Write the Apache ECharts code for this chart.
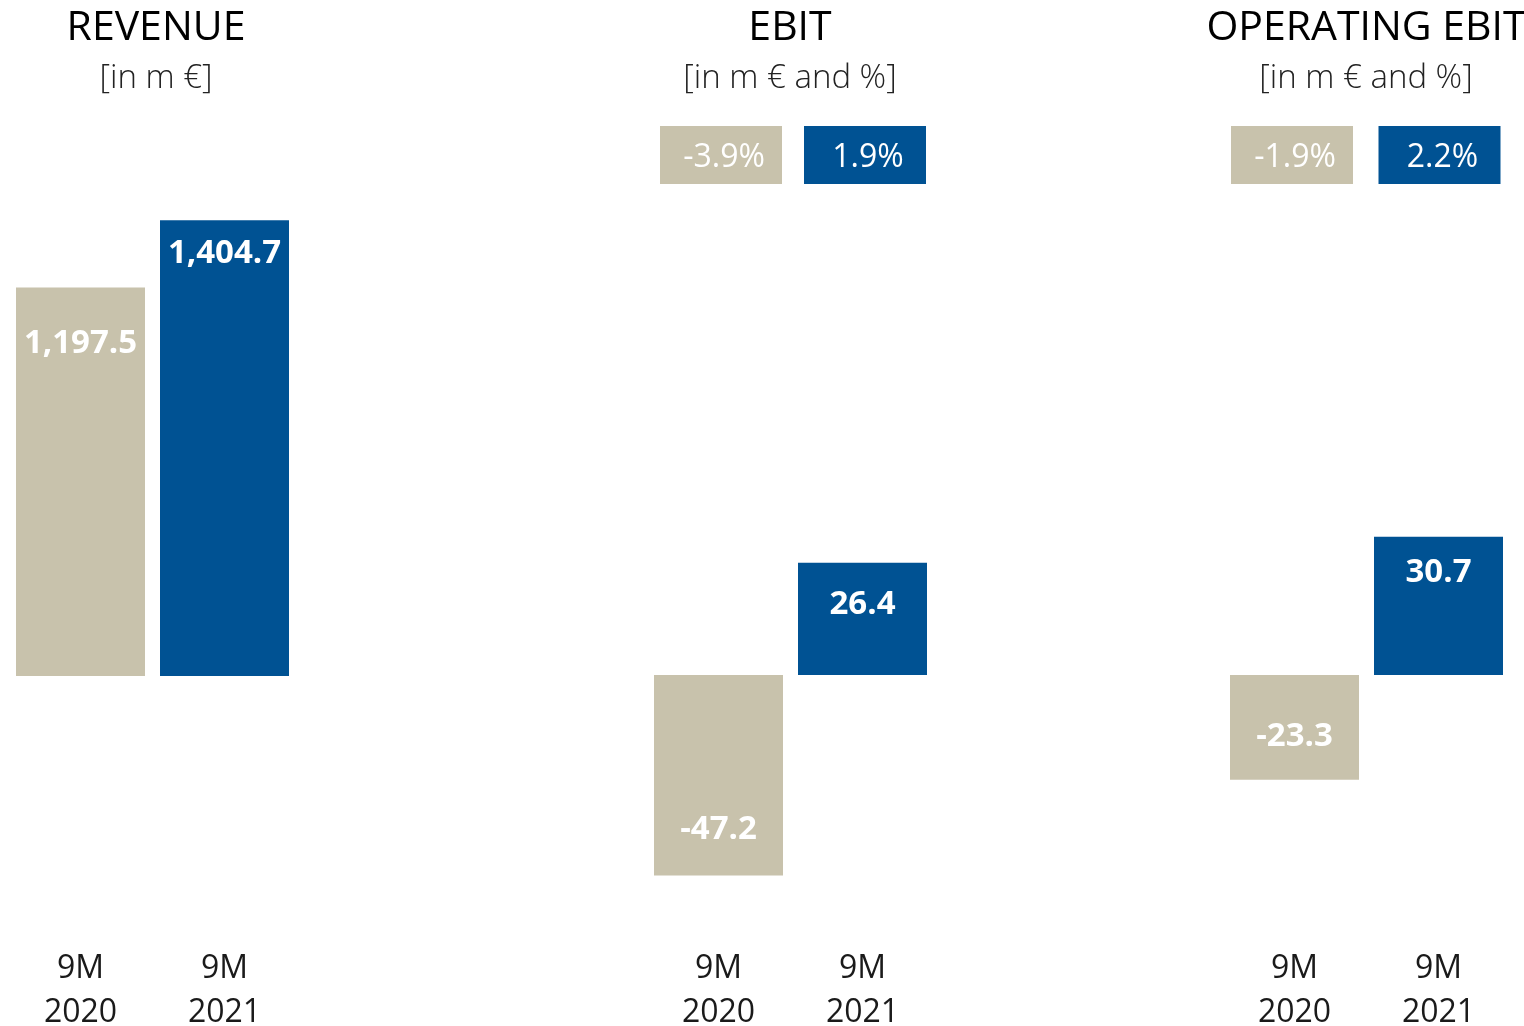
<!DOCTYPE html>
<html>
<head>
<meta charset="utf-8">
<script src="https://cdn.jsdelivr.net/npm/echarts@6/dist/echarts.min.js"></script>
<style>
html,body{margin:0;padding:0;background:#fff;}
#c{width:1524px;height:1026px;}
</style>
</head>
<body>
<div id="c"></div>
<script>
// ---- data ----
const categories = ["9M\n2020", "9M\n2021"];
const panelTitles = ["REVENUE", "EBIT", "OPERATING EBIT"];
const panelUnits = ["[in m €]", "[in m € and %]", "[in m € and %]"];
const revenueValues = [1197.5, 1404.7];
const ebitValues = [-47.2, 26.4];
const opEbitValues = [-23.3, 30.7];
const ebitMargins = ["-3.9%", "1.9%"];
const opEbitMargins = ["-1.9%", "2.2%"];

const TAN = "#C8C2AC", BLUE = "#005293";
const barColors = [TAN, BLUE];
const FONT = "Open Sans";

const chart = echarts.init(document.getElementById('c'), null, {renderer: 'canvas'});

const grids = [
  {left: 8.5, width: 288, top: 157, height: 519, outerBoundsMode: 'none', containLabel: false},
  {left: 646.5, width: 288, top: 505, height: 425, outerBoundsMode: 'none', containLabel: false},
  {left: 1222.5, width: 288, top: 495, height: 360, outerBoundsMode: 'none', containLabel: false}
];
const yRanges = [[0, 1600], [-60, 40], [-40, 40]];
const labelMargins = [271, 17, 92];
const allValues = [revenueValues, ebitValues, opEbitValues];
const labelDist = [[40, 17], [30, 25], [27, 19]];
const fmt = [
  v => v.toLocaleString('en-US', {minimumFractionDigits: 1, maximumFractionDigits: 1}),
  v => v.toFixed(1),
  v => v.toFixed(1)
];

const titleCenters = [151, 785, 1361];
const titles = [];
panelTitles.forEach((t, i) => {
  titles.push({text: t, left: titleCenters[i], top: 3, textAlign: 'center',
    textStyle: {fontFamily: FONT, fontSize: 41, fontWeight: 'normal', color: '#000'}});
  titles.push({text: panelUnits[i], left: titleCenters[i], top: 57, textAlign: 'center',
    textStyle: {fontFamily: FONT, fontSize: 33, fontWeight: 300, color: '#222'}});
});

const series = allValues.map((vals, gi) => ({
  type: 'bar', xAxisIndex: gi, yAxisIndex: gi, barWidth: 129,
  silent: true, animation: false,
  data: vals.map((v, k) => ({
    value: v,
    itemStyle: {color: barColors[k]},
    label: {
      show: true,
      position: v >= 0 ? 'insideTop' : 'insideBottom',
      distance: labelDist[gi][k],
      formatter: () => fmt[gi](v),
      color: '#fff', fontFamily: FONT, fontWeight: 'bold', fontSize: 33
    }
  }))
}));

// percentage boxes
const marginSets = [null, ebitMargins, opEbitMargins];
const boxCenters = [null, [721, 865], [1292, 1439.5]];
const graphics = [];
[1, 2].forEach(gi => {
  marginSets[gi].forEach((m, k) => {
    const cx = boxCenters[gi][k];
    graphics.push({type: 'rect', shape: {x: cx - 61, y: 126, width: 122, height: 58},
      style: {fill: barColors[k]}, silent: true});
    graphics.push({type: 'text', x: cx + 3, y: 158,
      style: {text: m, fill: '#fff', font: '32px "Open Sans"', textAlign: 'center', textVerticalAlign: 'middle'},
      silent: true});
  });
});

chart.setOption({
  animation: false,
  backgroundColor: '#fff',
  title: titles,
  grid: grids,
  xAxis: grids.map((g, i) => ({
    gridIndex: i, type: 'category', data: categories,
    axisLine: {show: false, onZero: false}, axisTick: {show: false},
    axisLabel: {margin: labelMargins[i], fontFamily: FONT, fontSize: 32, lineHeight: 44, color: '#1a1a1a'}
  })),
  yAxis: grids.map((g, i) => ({
    gridIndex: i, type: 'value', min: yRanges[i][0], max: yRanges[i][1], show: false,
    splitLine: {show: false}
  })),
  series: series,
  graphic: graphics
});
</script>
</body>
</html>
